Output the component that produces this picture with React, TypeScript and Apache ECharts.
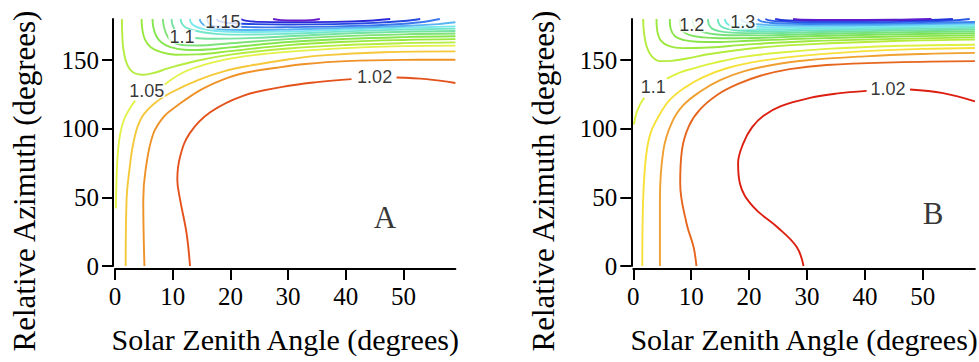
import React, { useEffect, useRef } from "react";
import * as echarts from "echarts";

const X_TICKS = [0, 10, 20, 30, 40, 50];
const Y_TICKS = [0, 50, 100, 150];
const X_TITLE = "Solar Zenith Angle (degrees)";
const Y_TITLE = "Relative Azimuth (degrees)";

// ---------- Panel A contours (x = zenith, y = azimuth), one array of segments per level ----------
const A_102 = [
  [[13, 0], [12.4, 24], [11.3, 48], [10.8, 63], [11.3, 80], [13, 97], [16.5, 112], [22.2, 124], [29, 130.5], [35, 134], [41, 136.2]],
  [[48.8, 137.4], [54, 136.2], [59, 133.4]],
];
const A_103 = [[[5.1, 0], [4.9, 48], [5.3, 70], [6.6, 96], [8.5, 109], [10.5, 116], [14.7, 128], [18.5, 135.5], [22.2, 140.5], [28, 144.5], [33, 147.2], [40, 149.3], [50, 150.2], [59, 150.3]]];
const A_104 = [[[1.85, 0], [2, 48], [2.5, 70], [3.3, 92], [4.6, 108], [7, 119], [10, 127], [14.7, 136], [19, 142], [23.4, 146], [30, 150.5], [36, 153.5], [46.5, 155.8], [59, 156.4]]];
const A_105 = [
  [[0.15, 42], [0.25, 60], [0.45, 80], [0.85, 95], [1.5, 106], [2.6, 115], [3.5, 120.5]],
  [[8.4, 131.5], [11.8, 141], [16, 147.3], [20.5, 151.5], [26, 154.6], [32, 156.8], [40, 158.8], [50, 160.2], [59, 160.6]],
];
const A_106 = [[[1.2, 180], [1.25, 170], [1.45, 158], [2.1, 147], [3.2, 141], [4.9, 139.4], [7, 141], [9, 143.8], [14.2, 149.6], [20, 154], [30, 158.5], [40, 161], [50, 162.4], [59, 163]]];
const A_107 = [[[4.6, 180], [4.75, 172], [5.2, 165], [6.2, 159.5], [8, 155.8], [10.5, 154], [14.2, 154.2], [20, 156.6], [30, 161], [40, 163.4], [50, 164.7], [59, 165.3]]];
const A_108 = [[[6.5, 180], [6.65, 174], [7.1, 168], [8, 163], [9.6, 159.5], [12, 157.6], [14.2, 157.4], [20, 159.3], [30, 163.2], [40, 165.5], [50, 166.8], [59, 167.4]]];
const A_109 = [[[8.3, 180], [8.45, 175], [8.9, 169], [9.5, 165], [10.6, 162], [12.3, 160.8], [14.2, 160.7], [20, 162.3], [30, 165.3], [40, 167.5], [50, 168.8], [59, 169.4]]];
const A_110 = [
  [[9.8, 180], [9.95, 176], [10.3, 172.6]],
  [[13.8, 166.2], [16, 165.6], [20, 165.7], [30, 167.4], [40, 169.4], [50, 170.7], [59, 171.3]],
];
const A_111 = [[[11.4, 180], [11.55, 177], [12.2, 174], [13.4, 172], [15.5, 170.2], [18, 169], [22, 168.6], [30, 169.3], [40, 171], [50, 172.3], [59, 173]]];
const A_112 = [[[13, 180], [13.15, 177.5], [13.8, 175], [15, 173], [17.5, 171.3], [22, 170.5], [30, 170.9], [40, 172.4], [50, 173.7], [59, 174.6]]];
const A_113 = [[[14.7, 180], [14.85, 178], [15.4, 175.6], [16.5, 173.5], [19, 172.3], [24, 172], [30, 172.4], [40, 173.5], [50, 174.9], [56, 176.3], [59, 177.6]]];
const A_114 = [[[16, 180], [16.2, 177], [17, 175], [19, 174.4], [21.5, 174.3], [26, 173.9], [30, 174.1], [40, 174.8], [48, 176], [53, 177.6], [56.3, 180]]];
const A_115 = [[[17.6, 180], [18, 178.4], [19.5, 177.2], [22, 176.5], [30, 176], [38, 176.3], [45, 177.2], [50, 178.5], [52.9, 180]]];
const A_116 = [[[21.8, 180], [22.6, 178.8], [25, 177.9], [30, 177.7], [38, 177.9], [44, 178.7], [47.7, 180]]];
const A_117 = [[[27.4, 180], [28.8, 179.2], [31.5, 178.9], [34, 179.2], [35.5, 180]]];

const A_LEVELS = ["1.02", "1.03", "1.04", "1.05", "1.06", "1.07", "1.08", "1.09", "1.10", "1.11", "1.12", "1.13", "1.14", "1.15", "1.16", "1.17"];
const A_CONTOURS = [A_102, A_103, A_104, A_105, A_106, A_107, A_108, A_109, A_110, A_111, A_112, A_113, A_114, A_115, A_116, A_117];
const A_LABELS = [
  [45, 137.5, "1.02"],
  [5.5, 127.8, "1.05"],
  [11.6, 167, "1.1"],
  [18.7, 178, "1.15"],
];

// ---------- Panel B contours ----------
const B_102 = [
  [[29.4, 0], [28.2, 14], [24.8, 28.6], [20.7, 43.2], [18.4, 60.3], [18.1, 74.8], [19, 89.4], [20.5, 101], [22.5, 109.5], [25.5, 116.5], [30.5, 122.5], [35, 125.6], [40.3, 127.6]],
  [[47.8, 128.6], [53.5, 126], [59, 120]],
];
const B_104 = [[[10.9, 0], [10.4, 14], [9.2, 31], [8.1, 60.3], [8.4, 84.5], [9.6, 102], [11.5, 114], [14.6, 125], [18, 132.5], [22.1, 138.8], [27, 143.5], [33.4, 146.5], [45, 148.4], [59, 149.3]]];
const B_106 = [[[4.6, 0], [4.6, 48], [5.2, 84.5], [6.6, 104], [8.6, 117], [11.7, 127.5], [15, 135.5], [19.2, 142], [24, 146.5], [29.6, 149.8], [40, 152.8], [50, 154.5], [59, 155.3]]];
const B_108 = [[[1.55, 0], [1.7, 48], [2.2, 80], [3, 97], [4.5, 110], [6.3, 121], [8.9, 130], [12, 137.5], [16.4, 144.5], [22, 149.5], [30, 153.5], [40, 156.6], [50, 158.2], [59, 158.9]]];
const B_110 = [
  [[0.1, 103], [0.5, 111], [1.2, 118], [1.9, 122.5]],
  [[5.8, 136.5], [8, 141], [10.4, 144], [14, 148], [19, 152.4], [26, 155.8], [33.4, 158.2], [45, 160.3], [59, 161.2]],
];
const B_112 = [[[1.7, 180], [1.85, 170], [2.3, 160], [3.2, 152.8], [4.6, 149.3], [6.5, 149.5], [9, 151], [13.2, 154.5], [21.9, 159.2], [30, 161.5], [45, 164], [59, 165]]];
const B_114 = [[[4, 180], [4.15, 171], [4.8, 164], [6.2, 160.2], [8.5, 158.8], [12, 159], [20, 161.5], [30, 163.8], [45, 165.5], [59, 166.6]]];
const B_116 = [[[6.3, 180], [6.45, 173], [7.2, 167.5], [8.8, 164.6], [11, 163.4], [14, 163.2], [20, 164.1], [30, 165.7], [45, 167.2], [59, 168.1]]];
const B_118 = [[[8, 180], [8.15, 175], [8.6, 171], [9.8, 168.2], [12, 166.6], [15, 166], [20, 166.1], [30, 167.4], [45, 168.8], [59, 169.5]]];
const B_120 = [[[10.2, 180], [10.4, 176], [11, 172.5], [12.2, 170.2], [14, 168.9], [17, 168.2], [22, 168.1], [30, 168.9], [45, 170.2], [59, 170.9]]];
const B_122 = [[[12.9, 180], [13.05, 176], [13.6, 173], [14.8, 171.2], [17, 170.1], [22, 169.7], [30, 170.3], [45, 171.5], [59, 172.3]]];
const B_124 = [[[14.6, 180], [14.75, 177], [15.2, 174.6], [16.2, 172.8], [18, 171.6], [22, 171.1], [30, 171.6], [45, 172.7], [59, 173.5]]];
const B_126 = [[[15.8, 180], [15.95, 178], [16.4, 176], [17.3, 174.2], [19, 173], [22, 172.5], [30, 172.8], [45, 173.8], [59, 174.6]]];
const B_128 = [[[17.3, 180], [17.5, 178], [18.3, 176.2], [20, 174.8], [23, 174.1], [30, 174], [45, 174.8], [59, 175.7]]];
const B_130 = [[[18.6, 180], [18.9, 178.5], [20, 177], [22, 176], [25, 175.4], [30, 175.2], [45, 175.8], [59, 176.8]]];
const B_132 = [[[21.5, 180], [22, 178.5], [23.5, 177.3], [26, 176.6], [30, 176.4], [45, 176.8], [59, 177.8]]];
const B_134 = [[[22.8, 180], [23.5, 179], [25.5, 178.1], [30, 177.6], [40, 177.6], [48, 178.1], [55, 178.9], [58.1, 180]]];
const B_136 = [[[24.5, 180], [25.5, 179.3], [28, 178.8], [35, 178.6], [43, 178.8], [50, 179.2], [55.2, 180]]];
const B_138 = [[[27.6, 180], [29, 179.5], [35, 179.3], [45, 179.4], [51.5, 180]]];

const B_LEVELS = ["1.02", "1.04", "1.06", "1.08", "1.10", "1.12", "1.14", "1.16", "1.18", "1.20", "1.22", "1.24", "1.26", "1.28", "1.30", "1.32", "1.34", "1.36", "1.38"];
const B_CONTOURS = [B_102, B_104, B_106, B_108, B_110, B_112, B_114, B_116, B_118, B_120, B_122, B_124, B_126, B_128, B_130, B_132, B_134, B_136, B_138];
const B_LABELS = [
  [44, 128.8, "1.02"],
  [3.45, 130.7, "1.1"],
  [10.1, 175.3, "1.2"],
  [18.9, 177.6, "1.3"],
];

const PANEL_TAGS = [
  [46.8, 35.7, "A"],
  [51.8, 38.6, "B"],
];

// colour ramps (style)
const A_COLORS = ["#e4521c", "#ee9228", "#f5c83a", "#e2f24a", "#b4ec40", "#98e840", "#86e64e", "#7ee278", "#74e2a0", "#72e6c8", "#78e8ec", "#5ab4f2", "#3a78ec", "#2448e0", "#2a28d8", "#6a1cc8"];
const B_COLORS = ["#dc1e10", "#e6661e", "#f0a030", "#f8e03a", "#dcf040", "#b4ec3c", "#9ce83e", "#88e448", "#7ee25a", "#78e27a", "#72e29c", "#6ee4bc", "#72e8dc", "#78e6f2", "#5ab8f4", "#3c84ee", "#2a58e4", "#2434dc", "#5a1ccc"];

const SERIF = "Liberation Serif";
const SANS = "Liberation Sans";

function contourSeries(contours: number[][][][], colors: string[], idx: number) {
  const out: any[] = [];
  contours.forEach((segs, i) => {
    segs.forEach((seg) => {
      out.push({
        type: "line",
        xAxisIndex: idx,
        yAxisIndex: idx,
        data: seg,
        smooth: 0.4,
        symbol: "none",
        silent: true,
        clip: true,
        lineStyle: { color: colors[i], width: 1.9 },
        z: 2,
      });
    });
  });
  return out;
}

function labelSeries(labels: any[], idx: number) {
  return {
    type: "scatter",
    xAxisIndex: idx,
    yAxisIndex: idx,
    data: labels,
    symbolSize: 0,
    silent: true,
    z: 5,
    label: {
      show: true,
      position: "inside",
      formatter: (p: any) => p.data[2],
      color: "#000",
      fontFamily: SANS,
      fontSize: 18,
      lineHeight: 14,
      backgroundColor: "#fff",
      padding: [0, 1],
    },
  };
}

function tagSeries(tag: any, idx: number) {
  return {
    type: "scatter",
    xAxisIndex: idx,
    yAxisIndex: idx,
    data: [tag],
    symbolSize: 0,
    silent: true,
    z: 5,
    label: {
      show: true,
      position: "inside",
      formatter: (p: any) => p.data[2],
      color: "#000",
      fontFamily: SERIF,
      fontSize: 31,
    },
  };
}

const tickRich = {
  t: { color: "#000", fontFamily: SERIF, fontSize: 25, fontWeight: "normal" },
};

function xAxis(gridIndex: number) {
  return {
    gridIndex,
    type: "value",
    min: 0,
    max: 59,
    interval: 10,
    offset: 3,
    axisLine: { show: true, onZero: false, lineStyle: { color: "#000", width: 2 } },
    axisTick: { show: true, length: 11, lineStyle: { color: "#000", width: 2 }, customValues: X_TICKS },
    axisLabel: {
      color: "#000",
      fontFamily: SERIF,
      fontSize: 25,
      margin: 15,
      showMaxLabel: false,
      showMinLabel: true,
      formatter: (v: number) => `{t|${v}}`,
      rich: tickRich,
    },
    splitLine: { show: false },
    name: X_TITLE,
    nameLocation: "middle",
    nameGap: 55,
    nameTextStyle: { color: "#000", fontFamily: SERIF, fontSize: 30 },
  };
}

function yAxis(gridIndex: number) {
  return {
    gridIndex,
    type: "value",
    min: 0,
    max: 180,
    interval: 50,
    offset: 2,
    axisLine: { show: true, onZero: false, lineStyle: { color: "#000", width: 2 } },
    axisTick: { show: true, length: 11, lineStyle: { color: "#000", width: 2 }, customValues: Y_TICKS },
    axisLabel: {
      color: "#000",
      fontFamily: SERIF,
      fontSize: 25,
      margin: 14,
      showMaxLabel: false,
      showMinLabel: true,
      formatter: (v: number) => `{t|${v}}`,
      rich: tickRich,
    },
    splitLine: { show: false },
  };
}

function yTitle(x: number) {
  return {
    type: "text",
    x,
    y: 181,
    rotation: Math.PI / 2,
    silent: true,
    style: {
      text: Y_TITLE,
      fontFamily: SERIF,
      fontSize: 31,
      fill: "#000",
      align: "center",
      verticalAlign: "middle",
    },
  };
}

export default function App() {
  const ref = useRef<HTMLDivElement>(null);
  useEffect(() => {
    if (!ref.current) return;
    const chart = echarts.init(ref.current, null, { renderer: "svg" });
    chart.setOption({
      animation: false,
      backgroundColor: "#fff",
      textStyle: { fontFamily: SERIF },
      grid: [
        { left: 115, top: 19, width: 340.4, height: 247, containLabel: false, outerBoundsMode: "none" },
        { left: 633.3, top: 19, width: 341.6, height: 247, containLabel: false, outerBoundsMode: "none" },
      ],
      xAxis: [xAxis(0), xAxis(1)],
      yAxis: [yAxis(0), yAxis(1)],
      graphic: [yTitle(24), yTitle(543)],
      series: [
        ...contourSeries(A_CONTOURS, A_COLORS, 0),
        ...contourSeries(B_CONTOURS, B_COLORS, 1),
        labelSeries(A_LABELS, 0),
        labelSeries(B_LABELS, 1),
        tagSeries(PANEL_TAGS[0], 0),
        tagSeries(PANEL_TAGS[1], 1),
      ],
    });
    return () => chart.dispose();
  }, []);
  return (
    <div
      ref={ref}
      style={{ position: "fixed", left: 0, top: 0, width: 979, height: 362, background: "#fff" }}
    />
  );
}
